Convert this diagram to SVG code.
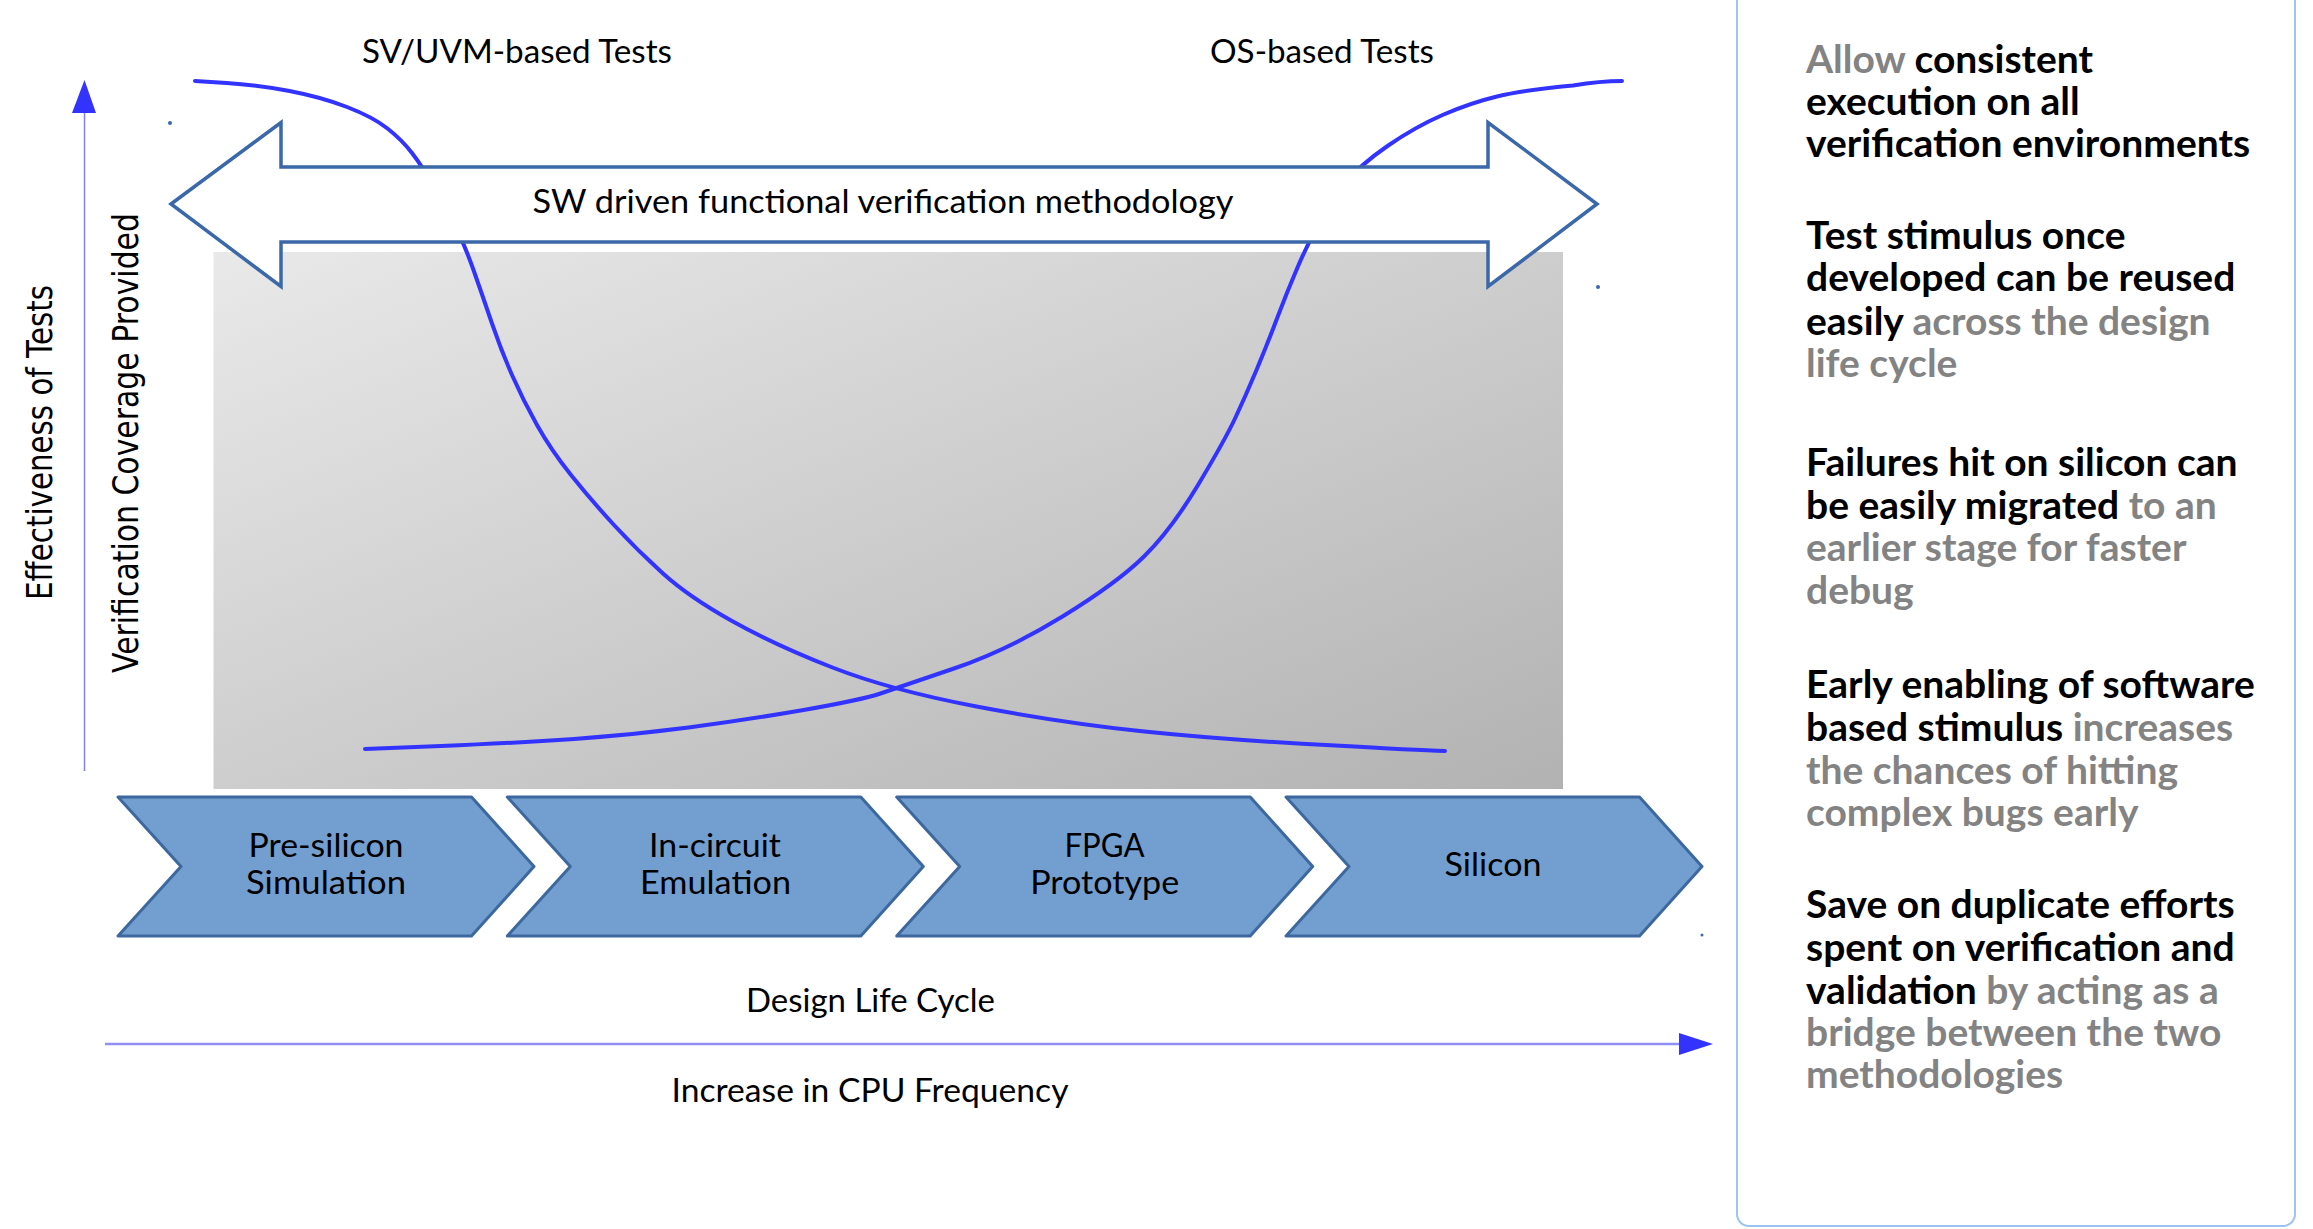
<svg xmlns="http://www.w3.org/2000/svg" width="2313" height="1229" viewBox="0 0 2313 1229">
<style>
.lbl{font-family:Lato,"Liberation Sans",sans-serif;font-size:33px;fill:#000}
.ax{font-family:"DejaVu Sans","Liberation Sans",sans-serif;font-size:35px;fill:#000}
.chev{fill:#729fcf;stroke:#3d689f;stroke-width:3;stroke-linejoin:round}
.curve{fill:none;stroke:#3333ff;stroke-width:4;stroke-linecap:round}
.side{font-family:Lato,"Liberation Sans",sans-serif;font-weight:bold;font-size:39px;fill:#000}
.g{fill:#838383}
.dot{fill:#3a68a8}
</style>
<defs>
<linearGradient id="gr" x1="0" y1="0" x2="1" y2="1">
<stop offset="0" stop-color="#e9e9e9"/>
<stop offset="1" stop-color="#b2b2b2"/>
</linearGradient>
</defs>
<rect width="2313" height="1229" fill="#fff"/>
<g id="panel">
<rect x="1737" y="-20" width="558" height="1246" rx="12" fill="none" stroke="#9cc3f2" stroke-width="2"/>
<text class="side"><tspan x="1806" y="72.5"><tspan class="g">Allow</tspan> consistent</tspan><tspan x="1806" y="114.5">execution on all</tspan><tspan x="1806" y="156.5">verification environments</tspan></text>
<text class="side"><tspan x="1806" y="248.5">Test stimulus once</tspan><tspan x="1806" y="291">developed can be reused</tspan><tspan x="1806" y="334.5">easily <tspan class="g">across the design</tspan></tspan><tspan x="1806" y="376.5" class="g">life cycle</tspan></text>
<text class="side"><tspan x="1806" y="476">Failures hit on silicon can</tspan><tspan x="1806" y="518.5">be easily migrated <tspan class="g">to an</tspan></tspan><tspan x="1806" y="561" class="g">earlier stage for faster</tspan><tspan x="1806" y="603.5" class="g">debug</tspan></text>
<text class="side"><tspan x="1806" y="698">Early enabling of software</tspan><tspan x="1806" y="740.5">based stimulus <tspan class="g">increases</tspan></tspan><tspan x="1806" y="783.5" class="g">the chances of hitting</tspan><tspan x="1806" y="825.5" class="g">complex bugs early</tspan></text>
<text class="side"><tspan x="1806" y="918">Save on duplicate efforts</tspan><tspan x="1806" y="960.5">spent on verification and</tspan><tspan x="1806" y="1003.5">validation <tspan class="g">by acting as a</tspan></tspan><tspan x="1806" y="1046" class="g">bridge between the two</tspan><tspan x="1806" y="1088" class="g">methodologies</tspan></text>
</g>
<g id="chart-area">
<rect x="213.5" y="252" width="1349.5" height="537" fill="url(#gr)"/>
</g>
<g id="connectors">
<line x1="84.5" y1="771" x2="84.5" y2="113" stroke="#8080ff" stroke-width="1.5"/>
<polygon points="72,113 96,113 84.5,80" fill="#3333ff"/>
<line x1="105" y1="1044" x2="1681" y2="1044" stroke="#8f8ff5" stroke-width="2.5"/>
<polygon points="1679,1033 1679,1055 1713,1044" fill="#3333ff"/>
<path class="curve" d="M195,81 L226.5,83 Q258,85 289.5,91 Q321,97 347,107 Q373,117 387.5,128.5 Q402,140 412,153 Q422,166 432.5,184.5 Q443,203 453.5,223 Q464,243 473.5,270 Q483,297 492,323.5 Q501,350 512,375 Q523,400 537,425 Q551,450 571,475 Q591,500 614,525 Q637,550 663,573.5 Q689,597 732,621 Q775,645 832.5,667.5 Q890,690 976.5,706.5 Q1063,723 1144.5,731.5 Q1226,740 1335.5,745.5 Q1415,750 1445,751"/>
<path class="curve" d="M365,749 L441,746 Q517,743 574,739 Q631,735 688.5,727.5 Q746,720 803.5,710 Q861,700 880.5,693.5 Q900,687 954,668.5 Q1008,650 1062.5,616.5 Q1117,583 1144,556.5 Q1171,530 1198,485 Q1225,440 1235.5,417.5 Q1246,395 1256.5,370 Q1267,345 1277,318.5 Q1287,292 1297.5,267.5 Q1308,243 1320,221.5 Q1332,200 1346,182.5 Q1360,165 1387.5,146 Q1415,127 1442.5,115 Q1470,103 1497,96.5 Q1524,90 1573,85.5 Q1600,81 1622,81"/>
</g>
<g id="methodology-arrow">
<polygon points="171,204 281,122.5 281,167 1488,167 1488,122.5 1597,204 1488,286.5 1488,242 281,242 281,286.5" fill="#fff" stroke="#3a68a8" stroke-width="3.5" stroke-linejoin="miter"/>
<text class="lbl" x="883" y="213" text-anchor="middle" textLength="701" lengthAdjust="spacingAndGlyphs">SW driven functional verification methodology</text>
</g>
<g id="labels">
<text class="lbl" x="517" y="63" text-anchor="middle" textLength="310" lengthAdjust="spacingAndGlyphs">SV/UVM-based Tests</text>
<text class="lbl" x="1322" y="63" text-anchor="middle" textLength="224" lengthAdjust="spacingAndGlyphs">OS-based Tests</text>
<text class="ax" transform="translate(52,442.5) rotate(-90)" text-anchor="middle" textLength="315" lengthAdjust="spacingAndGlyphs">Effectiveness of Tests</text>
<text class="ax" transform="translate(138,443) rotate(-90)" text-anchor="middle" textLength="460" lengthAdjust="spacingAndGlyphs">Verification Coverage Provided</text>
<text class="lbl" x="870.5" y="1012" text-anchor="middle" textLength="249" lengthAdjust="spacingAndGlyphs">Design Life Cycle</text>
<text class="lbl" x="870" y="1101.5" text-anchor="middle" textLength="397" lengthAdjust="spacingAndGlyphs">Increase in CPU Frequency</text>
<circle class="dot" cx="170" cy="123" r="2"/>
<circle class="dot" cx="1598" cy="287" r="2"/>
<circle class="dot" cx="1702" cy="935" r="1.5"/>
</g>
<g id="stage-presilicon">
<polygon class="chev" points="118,797 471.5,797 534,866.5 471.5,936 118,936 181,866.5"/>
<text class="lbl" x="326" y="857" text-anchor="middle" textLength="155" lengthAdjust="spacingAndGlyphs">Pre-silicon</text>
<text class="lbl" x="326" y="894" text-anchor="middle" textLength="160" lengthAdjust="spacingAndGlyphs">Simulation</text>
</g>
<g id="stage-emulation">
<polygon class="chev" points="507.3,797 860.8,797 923.3,866.5 860.8,936 507.3,936 570.3,866.5"/>
<text class="lbl" x="715" y="857" text-anchor="middle" textLength="132" lengthAdjust="spacingAndGlyphs">In-circuit</text>
<text class="lbl" x="715.5" y="894" text-anchor="middle" textLength="151" lengthAdjust="spacingAndGlyphs">Emulation</text>
</g>
<g id="stage-fpga">
<polygon class="chev" points="896.7,797 1250.2,797 1312.7,866.5 1250.2,936 896.7,936 959.7,866.5"/>
<text class="lbl" x="1104.5" y="857" text-anchor="middle" textLength="80" lengthAdjust="spacingAndGlyphs">FPGA</text>
<text class="lbl" x="1104.7" y="894" text-anchor="middle" textLength="149" lengthAdjust="spacingAndGlyphs">Prototype</text>
</g>
<g id="stage-silicon">
<polygon class="chev" points="1286,797 1639.5,797 1702,866.5 1639.5,936 1286,936 1349,866.5"/>
<text class="lbl" x="1493" y="876" text-anchor="middle" textLength="97" lengthAdjust="spacingAndGlyphs">Silicon</text>
</g>
</svg>
